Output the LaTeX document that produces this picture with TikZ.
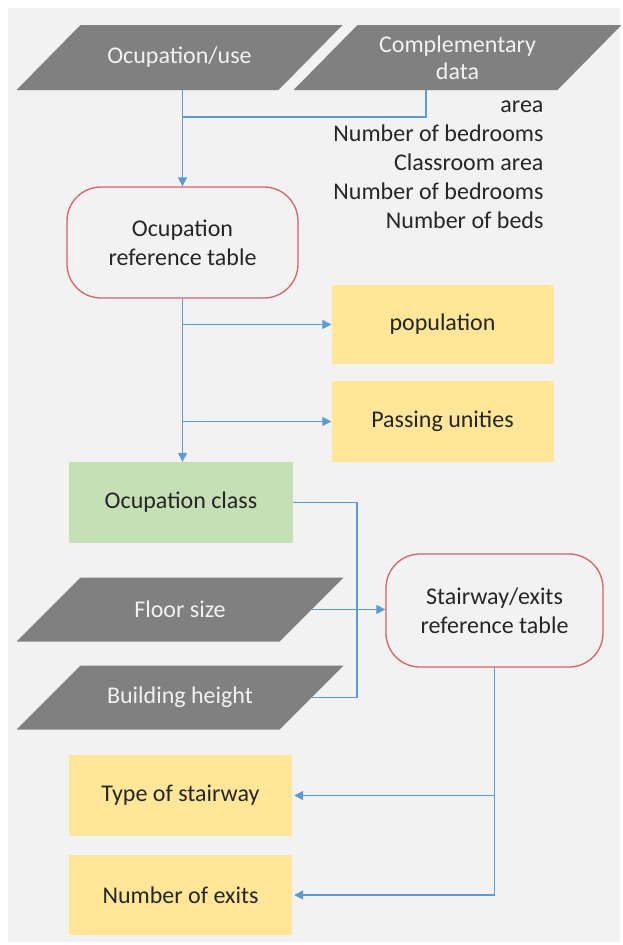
\documentclass[tikz,border=0pt]{standalone}
\usepackage{fontspec}
\setmainfont{Carlito}
\usetikzlibrary{arrows.meta, positioning}
\definecolor{bgcol}{HTML}{F2F2F2}
\definecolor{inputcol}{HTML}{808080}
\definecolor{yellowcol}{HTML}{FFE699}
\definecolor{greencol}{HTML}{C5E0B4}
\definecolor{redcol}{HTML}{D9606A}
\definecolor{bluecol}{HTML}{5B9BD5}
\definecolor{textcol}{HTML}{262626}
\pgfdeclarelayer{background}
\pgfsetlayers{background,main}

\begin{document}
\begin{tikzpicture}[x=1pt, y=-1pt,
    font=\fontsize{24}{29}\selectfont, text=textcol,
    datain/.style={rectangle, text=bgcol, align=center, inner sep=0pt, outer sep=0pt,
        minimum width=263pt, minimum height=64pt,
        append after command={\pgfextra{\begin{pgfonlayer}{background}
            \fill[inputcol] ([xshift=-32pt]\tikzlastnode.south west)
                -- ([xshift=32pt]\tikzlastnode.north west)
                -- ([xshift=32pt]\tikzlastnode.north east)
                -- ([xshift=-32pt]\tikzlastnode.south east) -- cycle;
            \end{pgfonlayer}}}},
    reftable/.style={rectangle, rounded corners=34pt, draw=redcol, line width=1.3pt,
        fill=bgcol, align=center, inner sep=0pt},
    result/.style={rectangle, fill=yellowcol, align=center, inner sep=0pt,
        minimum width=222pt, minimum height=80pt},
    link/.style={draw=bluecol, line width=1.3pt},
    arr/.style={link, -{Triangle[length=9pt, width=9pt]}}]
    \useasboundingbox (0,0) rectangle (622,945);
    \begin{pgfonlayer}{background}
        \fill[bgcol] (8,8) rectangle (620,942);
    \end{pgfonlayer}

    % Inputs
    \node[datain, minimum width=262pt, minimum height=65pt] (use) at (179.5,57.5) {Ocupation/use};
    \node[datain, minimum width=264pt, minimum height=65pt] (comp) at (457.5,57.5)
        {Complementary\\[-2pt]data};
    \node[anchor=east, align=right] (notes) at (547,165)
        {area\\Number of bedrooms\\Classroom area\\Number of bedrooms\\Number of beds};

    % Occupation table and results
    \node[reftable, minimum width=231pt, minimum height=111pt] (occtab) at (182.5,242.5)
        {Ocupation\\reference table};
    \node[result, minimum height=79pt] (pop) at (442.5,324.5) {population};
    \node[result, minimum height=81pt] (pass) at (442.5,421.5) {Passing unities};
    \node[result, fill=greencol, minimum width=224pt, minimum height=81pt] (class)
        at (181,502.5) {Ocupation class};

    % Building inputs and stairway table
    \node[datain] (floor) at (180,609.5) {Floor size};
    \node[datain] (height) at (180,697.5) {Building height};
    \node[reftable, minimum width=217pt, minimum height=113pt] (stairtab) at (494.5,610.5)
        {Stairway/exits\\reference table};
    \node[result, minimum width=223pt, minimum height=81pt] (stair) at (180.5,795.5)
        {Type of stairway};
    \node[result, minimum width=223pt, minimum height=80pt] (exits) at (180.5,895)
        {Number of exits};

    % Connectors
    \coordinate (cj) at (426,117);
    \coordinate (jn) at (357,0);
    \draw[arr] (use.south -| occtab.north) -- (occtab.north);
    \draw[link] (cj |- comp.south) -- (cj) -- (cj -| occtab.north);
    \draw[arr] (occtab.south) -- (occtab.south |- class.north);
    \draw[arr] (occtab.south |- pop.west) -- (pop.west);
    \draw[arr] (occtab.south |- pass.west) -- (pass.west);
    \draw[link] (class.east) -- (class.east -| jn) -- (height.east -| jn) -- (height.east);
    \draw[arr] (floor.east) -- (floor.east -| stairtab.west);
    \draw[link] (stairtab.south) -- (stairtab.south |- exits.east);
    \draw[arr, shorten >=2pt] (stairtab.south |- stair.east) -- (stair.east);
    \draw[arr, shorten >=2pt] (stairtab.south |- exits.east) -- (exits.east);
\end{tikzpicture}
\end{document}
